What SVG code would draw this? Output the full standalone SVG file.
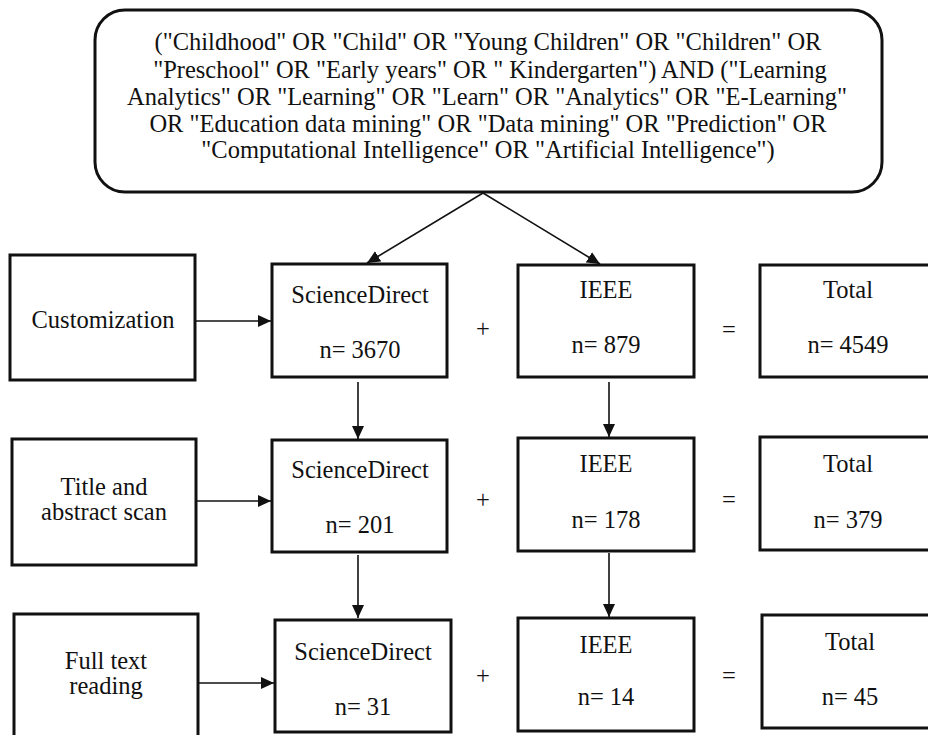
<svg xmlns="http://www.w3.org/2000/svg" width="928" height="735" viewBox="0 0 928 735">
<style>
  .box { fill: #ffffff; stroke: #111111; stroke-width: 3; }
  .t { font-family: "Liberation Serif", "Times New Roman", serif; font-size: 24.5px; fill: #111111; text-anchor: middle; }
  .op { font-family: "Liberation Serif", "Times New Roman", serif; font-size: 24.5px; fill: #111111; text-anchor: middle; }
  .con { fill: none; stroke: #111111; stroke-width: 1.6; marker-end: url(#arr); }
</style>
<defs>
  <marker id="arr" markerUnits="userSpaceOnUse" markerWidth="13" markerHeight="12" refX="13" refY="6" orient="auto">
    <path d="M0,0 L13,6 L0,12 Z" fill="#111111"/>
  </marker>
</defs>
<rect width="928" height="735" fill="#ffffff"/>

<g id="query">
  <rect class="box" x="95" y="10" width="787" height="182" rx="30" ry="30"/>
  <text class="t" x="488" y="50">("Childhood" OR "Child" OR "Young Children" OR "Children" OR</text>
  <text class="t" x="490" y="78">"Preschool" OR "Early years" OR " Kindergarten") AND ("Learning</text>
  <text class="t" x="487" y="105">Analytics" OR "Learning" OR "Learn" OR "Analytics" OR "E-Learning"</text>
  <text class="t" x="488" y="132">OR "Education data mining" OR "Data mining" OR "Prediction" OR</text>
  <text class="t" x="488" y="158">"Computational Intelligence" OR "Artificial Intelligence")</text>
</g>

<g id="customization">
  <rect class="box" x="10" y="255" width="185" height="125"/>
  <text class="t" x="103" y="328">Customization</text>
</g>
<g id="sd1">
  <rect class="box" x="272" y="264" width="175" height="113"/>
  <text class="t" x="360" y="303">ScienceDirect</text>
  <text class="t" x="360" y="358">n= 3670</text>
</g>
<g id="plus1"><text class="op" x="483" y="337">+</text></g>
<g id="ieee1">
  <rect class="box" x="518" y="265" width="176" height="112"/>
  <text class="t" x="606" y="298">IEEE</text>
  <text class="t" x="606" y="353">n= 879</text>
</g>
<g id="eq1"><text class="op" x="729" y="338">=</text></g>
<g id="total1">
  <rect class="box" x="760" y="265" width="176" height="112"/>
  <text class="t" x="848" y="298">Total</text>
  <text class="t" x="848" y="353">n= 4549</text>
</g>

<g id="titlescan">
  <rect class="box" x="12" y="439" width="184" height="126"/>
  <text class="t" x="104" y="495">Title and</text>
  <text class="t" x="104" y="520">abstract scan</text>
</g>
<g id="sd2">
  <rect class="box" x="272" y="440" width="175" height="112"/>
  <text class="t" x="360" y="478">ScienceDirect</text>
  <text class="t" x="360" y="533">n= 201</text>
</g>
<g id="plus2"><text class="op" x="483" y="508">+</text></g>
<g id="ieee2">
  <rect class="box" x="518" y="438" width="176" height="113"/>
  <text class="t" x="606" y="472">IEEE</text>
  <text class="t" x="606" y="528">n= 178</text>
</g>
<g id="eq2"><text class="op" x="729" y="508">=</text></g>
<g id="total2">
  <rect class="box" x="760" y="437" width="176" height="113"/>
  <text class="t" x="848" y="472">Total</text>
  <text class="t" x="848" y="528">n= 379</text>
</g>

<g id="fulltext">
  <rect class="box" x="14" y="614" width="184" height="130"/>
  <text class="t" x="106" y="669">Full text</text>
  <text class="t" x="106" y="694">reading</text>
</g>
<g id="sd3">
  <rect class="box" x="275" y="620" width="176" height="112"/>
  <text class="t" x="363" y="660">ScienceDirect</text>
  <text class="t" x="363" y="715">n= 31</text>
</g>
<g id="plus3"><text class="op" x="483" y="684">+</text></g>
<g id="ieee3">
  <rect class="box" x="518" y="618" width="176" height="113"/>
  <text class="t" x="606" y="653">IEEE</text>
  <text class="t" x="606" y="705">n= 14</text>
</g>
<g id="eq3"><text class="op" x="729" y="684">=</text></g>
<g id="total3">
  <rect class="box" x="762" y="615" width="176" height="113"/>
  <text class="t" x="850" y="650">Total</text>
  <text class="t" x="850" y="705">n= 45</text>
</g>

<g id="connectors">
  <line class="con" x1="483" y1="193" x2="367" y2="263"/>
  <line class="con" x1="483" y1="193" x2="600" y2="264"/>
  <line class="con" x1="196" y1="321" x2="271" y2="321"/>
  <line class="con" x1="197" y1="501" x2="271" y2="501"/>
  <line class="con" x1="199" y1="683" x2="274" y2="683"/>
  <line class="con" x1="358" y1="382" x2="358" y2="439"/>
  <line class="con" x1="358" y1="555" x2="358" y2="618"/>
  <line class="con" x1="609" y1="382" x2="609" y2="437"/>
  <line class="con" x1="609" y1="553" x2="609" y2="617"/>
</g>
</svg>
